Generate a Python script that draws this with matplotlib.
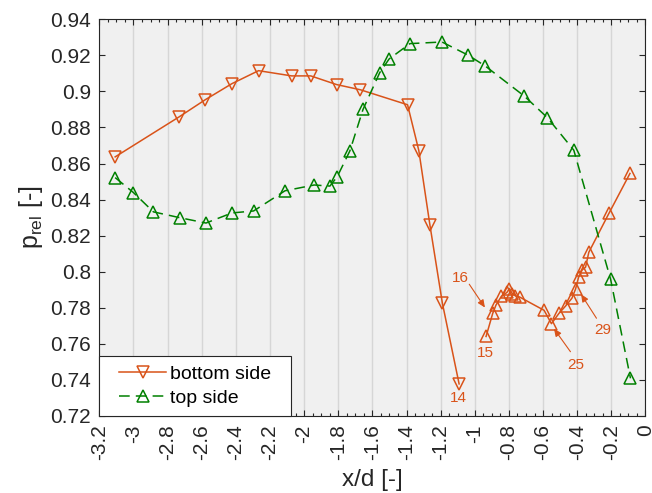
import matplotlib
matplotlib.use("Agg")
import matplotlib.pyplot as plt
from matplotlib.ticker import MultipleLocator, FixedLocator, FuncFormatter
from matplotlib.transforms import ScaledTranslation
from matplotlib.legend_handler import HandlerLine2D

plt.rcParams['font.family'] = ['Liberation Sans', 'DejaVu Sans']
plt.rcParams['axes.unicode_minus'] = False

# ---- data ----
# bottom side, probes 1-14 (down triangles)
bottom_x = [-3.107, -2.732, -2.579, -2.423, -2.267, -2.073, -1.961, -1.810,
            -1.670, -1.394, -1.328, -1.263, -1.190, -1.092]
bottom_y = [0.8637, 0.8859, 0.8954, 0.9043, 0.9115, 0.9086, 0.9086, 0.9038,
            0.9009, 0.8926, 0.8672, 0.8259, 0.7826, 0.7378]
# bottom side, probes 15-35 (up triangles)
bottom2_x = [-0.934, -0.895, -0.876, -0.844, -0.812, -0.797, -0.780, -0.762,
             -0.738, -0.594, -0.551, -0.507, -0.468, -0.431, -0.410, -0.392,
             -0.371, -0.351, -0.332, -0.214, -0.091]
bottom2_y = [0.7641, 0.7769, 0.7815, 0.7864, 0.7885, 0.7906, 0.7878, 0.7866,
             0.7860, 0.7786, 0.7712, 0.7769, 0.7810, 0.7853, 0.7903, 0.7969,
             0.8010, 0.8025, 0.8108, 0.8324, 0.8545]
# top side
top_x = [-3.107, -3.000, -2.883, -2.730, -2.575, -2.423, -2.296, -2.112,
         -1.941, -1.849, -1.806, -1.732, -1.655, -1.557, -1.502, -1.380,
         -1.192, -1.037, -0.939, -0.710, -0.575, -0.420, -0.204, -0.088]
top_y = [0.8522, 0.8439, 0.8332, 0.8300, 0.8270, 0.8326, 0.8337, 0.8449,
         0.8481, 0.8475, 0.8527, 0.8670, 0.8900, 0.9104, 0.9180, 0.9265,
         0.9274, 0.9200, 0.9141, 0.8974, 0.8855, 0.8674, 0.7957, 0.7409]

x_ticks = [-3.2, -3.0, -2.8, -2.6, -2.4, -2.2, -2.0, -1.8, -1.6, -1.4, -1.2,
           -1.0, -0.8, -0.6, -0.4, -0.2, 0.0]
y_ticks = [0.72, 0.74, 0.76, 0.78, 0.80, 0.82, 0.84, 0.86, 0.88, 0.90, 0.92, 0.94]
series_labels = ['bottom side', 'top side']
probe_labels = ['14', '15', '16', '25', '29']

ORANGE = '#D95319'
GREEN = '#008000'
DARK = '#262626'

fig = plt.figure(figsize=(6.52, 4.93), dpi=100)
ax = fig.add_axes([0.1523, 0.1562, 0.8377, 0.8047])
ax.set_facecolor('#f0f0f0')

mk = dict(markersize=8.5, markerfacecolor='none', markeredgewidth=1.1)
l1, = ax.plot(bottom_x, bottom_y, '-', color=ORANGE, lw=1.1, marker='v',
              markeredgecolor=ORANGE, label=series_labels[0], zorder=3, **mk)
ax.plot(bottom2_x, bottom2_y, '-', color=ORANGE, lw=1.1, marker='^',
        markeredgecolor=ORANGE, zorder=3, **mk)
l2, = ax.plot(top_x, top_y, color=GREEN, lw=1.1, marker='^',
              markeredgecolor=GREEN, label=series_labels[1], zorder=3,
              dashes=(7, 4), **mk)

# ---- probe annotations ----
def pt(i_series, idx):
    if i_series == 0:
        return bottom_x[idx], bottom_y[idx]
    return bottom2_x[idx], bottom2_y[idx]

def shifted(dx, dy):
    return ax.transData + ScaledTranslation(dx / 72.0, dy / 72.0, fig.dpi_scale_trans)

afs = 11
# labels directly below markers: (series, index, label, text offset pts)
below = [(0, 13, probe_labels[0], (-0.5, -10.5)),
         (1, 0, probe_labels[1], (-0.5, -12.0))]
for s, i, lab, off in below:
    xp, yp = pt(s, i)
    ax.text(xp, yp, lab, transform=shifted(*off), ha='center', va='center',
            color=ORANGE, fontsize=afs, zorder=4)

arrow_kw = dict(arrowstyle='-|>,head_length=0.45,head_width=0.2', color=ORANGE,
                lw=0.8, shrinkA=0, shrinkB=0)
# (series, index, label, tip offset, tail offset, text offset) in points from marker
arrows = [
    (1, 1, probe_labels[2], (-5.6, 4.2), (-16.9, 21.0), (-23.0, 25.2)),
    (1, 10, probe_labels[3], (1.8, -3.6), (13.7, -20.2), (17.3, -29.5)),
    (1, 14, probe_labels[4], (4.0, -3.6), (15.1, -20.9), (19.4, -29.5)),
]
for s, i, lab, tip, tail, txt in arrows:
    xp, yp = pt(s, i)
    ax.annotate('', xy=(xp, yp), xycoords=shifted(*tip),
                xytext=(tail[0] - tip[0], tail[1] - tip[1]), textcoords='offset points',
                arrowprops=arrow_kw, zorder=4)
    ax.text(xp, yp, lab, transform=shifted(*txt), ha='center', va='center',
            color=ORANGE, fontsize=afs, zorder=4)

# ---- axes ----
ax.set_xlim(-3.2, 0)
ax.set_ylim(0.72, 0.94)
fmt = FuncFormatter(lambda v, p: '%g' % round(v, 4))
ax.xaxis.set_major_locator(FixedLocator(x_ticks))
ax.xaxis.set_minor_locator(MultipleLocator(0.05))
ax.yaxis.set_major_locator(FixedLocator(y_ticks))
ax.xaxis.set_major_formatter(fmt)
ax.yaxis.set_major_formatter(fmt)
ax.tick_params(axis='both', which='both', direction='in', top=True, right=True,
               colors=DARK, labelcolor=DARK, width=0.8)
ax.tick_params(axis='both', which='major', length=4.5, labelsize=15)
ax.tick_params(axis='x', which='minor', length=2.5)
ax.tick_params(axis='x', which='major', labelrotation=90, pad=6)
ax.tick_params(axis='y', which='major', pad=6)
for lab in ax.get_xticklabels():
    lab.set_va('top')
for sp in ax.spines.values():
    sp.set_color(DARK)
    sp.set_linewidth(0.8)
ax.grid(True, axis='x', which='major', color='#d6d6d6', lw=1.0)
ax.set_axisbelow(True)

ax.set_xlabel('x/d [-]', fontsize=17.5, color=DARK, labelpad=6)
ax.set_ylabel(r'p$_{\mathregular{rel}}$ [-]', fontsize=18, color=DARK, labelpad=4)

hm = {l1: HandlerLine2D(xpad=0.57), l2: HandlerLine2D(xpad=0.57)}
leg = ax.legend(handles=[l1, l2], labels=[series_labels[0] + '  ', series_labels[1] + '  '],
                loc='lower left', borderaxespad=0, fontsize=14,
                frameon=True, fancybox=False, handlelength=3.0, handletextpad=0.2,
                labelspacing=0.35, borderpad=0.45, handler_map=hm)
leg.get_frame().set_edgecolor(DARK)
leg.get_frame().set_linewidth(0.8)
leg.get_frame().set_alpha(1.0)

fig.savefig('out.png', dpi=100)
